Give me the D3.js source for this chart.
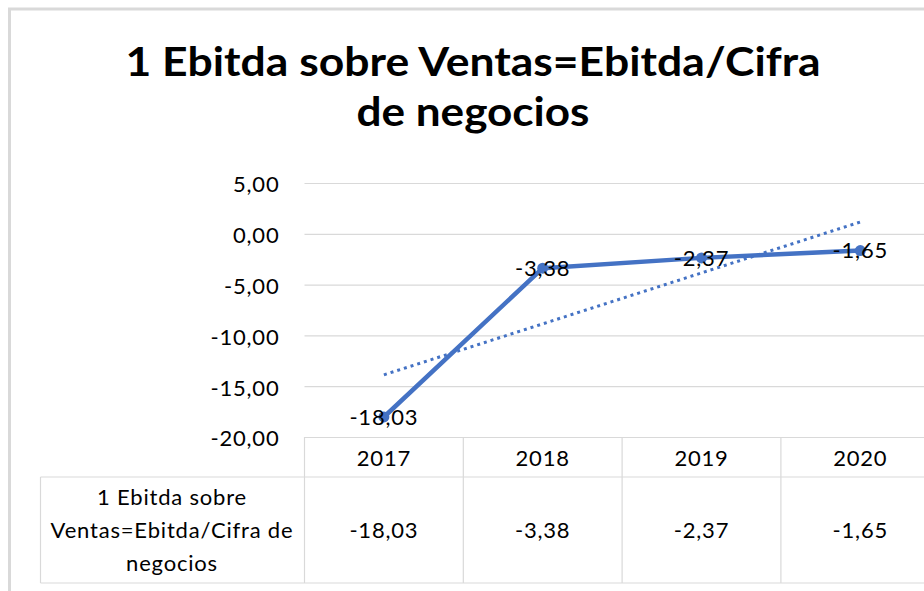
<!DOCTYPE html>
<html>
<head>
<meta charset="utf-8">
<script src="https://cdn.jsdelivr.net/npm/d3@7"></script>
<style>
  body { margin: 0; background: #fff; }
  text { font-family: Lato, "Open Sans", sans-serif; fill: #000; }
  text.t { font-size: 22px; letter-spacing: 0.8px; }
</style>
</head>
<body>
<svg id="chart" width="924" height="591"></svg>
<script>
// chart data
var years = ["2017", "2018", "2019", "2020"];
var values = [-18.03, -3.38, -2.37, -1.65];
var yTicks = [5, 0, -5, -10, -15, -20];
var titleLines = ["1 Ebitda sobre Ventas=Ebitda/Cifra", "de negocios"];
var seriesLabel = ["1 Ebitda sobre", "Ventas=Ebitda/Cifra de", "negocios"];

var blue = "#4472C4",
    grid = "#d9d9d9";

var W = 924, H = 591;
var plotLeft = 304.5, plotTop = 183, plotBottom = 437;
var tableMid = 477, tableBottom = 583, tableLeft = 40.5;

// spanish style numbers: comma decimal, plain hyphen minus
var locale = d3.formatLocale({decimal: ",", thousands: ".", grouping: [3], currency: ["", " €"], minus: "-"});
var fmt = locale.format(".2f");

var svg = d3.select("svg#chart");

// outer chart border
svg.append("rect")
    .attr("x", 9.5).attr("y", 9)
    .attr("width", W + 20).attr("height", H + 20)
    .attr("fill", "none")
    .attr("stroke", grid)
    .attr("stroke-width", 3);

// title
var titleWidths = [695, 233];
svg.selectAll("text.title")
    .data(titleLines)
  .enter().append("text")
    .attr("class", "title")
    .attr("x", 473)
    .attr("y", function(d, i) { return 76 + i * 50; })
    .attr("text-anchor", "middle")
    .attr("textLength", function(d, i) { return titleWidths[i]; })
    .attr("lengthAdjust", "spacingAndGlyphs")
    .style("font-size", "41px")
    .style("font-weight", 700)
    .text(function(d) { return d; });

// scales
var x = d3.scaleBand().domain(years).range([plotLeft, plotLeft + 4 * 158.8]).padding(0);
var y = d3.scaleLinear().domain([-20, 5]).range([plotBottom, plotTop]);

// y axis with gridlines
var yAxis = svg.append("g")
    .attr("transform", "translate(" + plotLeft + ",0)")
    .call(d3.axisLeft(y).tickValues(yTicks).tickFormat(fmt)
          .tickSize(-(W - plotLeft)).tickPadding(25));
yAxis.attr("font-family", null).attr("font-size", null);
yAxis.select(".domain").remove();
yAxis.selectAll(".tick line").attr("stroke", grid).attr("stroke-width", 1.2);
yAxis.selectAll(".tick text")
    .attr("class", "t")
    .attr("dy", "0.4em")
    .attr("fill", "#000");

// data table lines
var tbl = svg.append("g").attr("stroke", grid).attr("stroke-width", 1.2);
tbl.selectAll("line.col")
    .data(years)
  .enter().append("line")
    .attr("x1", function(d) { return x(d); })
    .attr("x2", function(d) { return x(d); })
    .attr("y1", plotBottom).attr("y2", tableBottom);
tbl.append("line").attr("x1", tableLeft).attr("x2", W).attr("y1", tableMid).attr("y2", tableMid);
tbl.append("line").attr("x1", tableLeft).attr("x2", W).attr("y1", tableBottom).attr("y2", tableBottom);
tbl.append("line").attr("x1", tableLeft).attr("x2", tableLeft).attr("y1", tableMid).attr("y2", tableBottom);

// header years
svg.selectAll("text.year")
    .data(years)
  .enter().append("text")
    .attr("class", "t year")
    .attr("x", function(d) { return x(d) + x.bandwidth() / 2; })
    .attr("y", 458)
    .attr("dy", "0.35em")
    .attr("text-anchor", "middle")
    .text(function(d) { return d; });

// row values
svg.selectAll("text.cell")
    .data(values)
  .enter().append("text")
    .attr("class", "t cell")
    .attr("x", function(d, i) { return x(years[i]) + x.bandwidth() / 2; })
    .attr("y", 530)
    .attr("dy", "0.35em")
    .attr("text-anchor", "middle")
    .text(function(d) { return fmt(d); });

// series name cell
svg.selectAll("text.series")
    .data(seriesLabel)
  .enter().append("text")
    .attr("class", "t series")
    .attr("x", 172)
    .attr("y", function(d, i) { return 497 + i * 33; })
    .attr("dy", "0.35em")
    .attr("text-anchor", "middle")
    .text(function(d) { return d; });

var cx = function(d, i) { return x(years[i]) + x.bandwidth() / 2; };

// linear trendline (least squares on 1..n)
var n = values.length,
    mx = d3.mean(values, function(d, i) { return i + 1; }),
    my = d3.mean(values),
    sxy = d3.sum(values, function(d, i) { return (i + 1 - mx) * (d - my); }),
    sxx = d3.sum(values, function(d, i) { return (i + 1 - mx) * (i + 1 - mx); }),
    slope = sxy / sxx,
    icpt = my - slope * mx;
var trend = [0, n - 1].map(function(i) { return [x(years[i]) + x.bandwidth() / 2, y(icpt + slope * (i + 1))]; });

svg.append("path")
    .attr("d", d3.line()(trend))
    .attr("fill", "none")
    .attr("stroke", blue)
    .attr("stroke-width", 3)
    .attr("stroke-dasharray", "3 4");

// the series line
svg.append("path")
    .datum(values)
    .attr("d", d3.line().x(cx).y(function(d) { return y(d); }))
    .attr("fill", "none")
    .attr("stroke", blue)
    .attr("stroke-width", 4.5)
    .attr("stroke-linejoin", "round");

svg.selectAll("circle.pt")
    .data(values)
  .enter().append("circle")
    .attr("class", "pt")
    .attr("cx", cx)
    .attr("cy", function(d) { return y(d); })
    .attr("r", 5.5)
    .attr("fill", blue);

// data labels centred on points
svg.selectAll("text.lbl")
    .data(values)
  .enter().append("text")
    .attr("class", "t lbl")
    .attr("x", cx)
    .attr("y", function(d) { return y(d); })
    .attr("dy", "0.35em")
    .attr("text-anchor", "middle")
    .text(function(d) { return fmt(d); });
</script>
</body>
</html>
